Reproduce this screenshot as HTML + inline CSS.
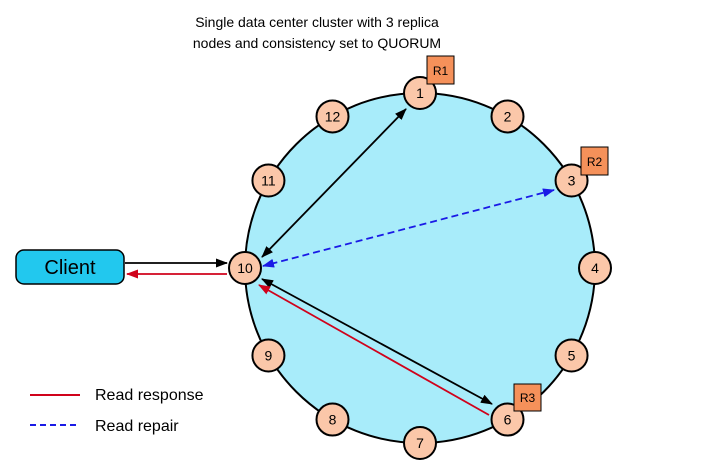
<!DOCTYPE html>
<html><head><meta charset="utf-8"><style>
body{margin:0;background:#fff;}
svg{display:block;font-family:"Liberation Sans",sans-serif;}
</style></head><body>
<svg id="d" width="725" height="471" viewBox="0 0 725 471">
<defs>
<marker id="ak" markerWidth="12" markerHeight="9" refX="11" refY="4.5" orient="auto-start-reverse" markerUnits="userSpaceOnUse"><path d="M0,0 L12,4.5 L0,9 Z" fill="#000"/></marker>
<marker id="ar" markerWidth="12" markerHeight="9" refX="11" refY="4.5" orient="auto-start-reverse" markerUnits="userSpaceOnUse"><path d="M0,0 L12,4.5 L0,9 Z" fill="#d0021b"/></marker>
<marker id="ab" markerWidth="12" markerHeight="9" refX="11" refY="4.5" orient="auto-start-reverse" markerUnits="userSpaceOnUse"><path d="M0,0 L12,4.5 L0,9 Z" fill="#1a1ae6"/></marker>
</defs>
<text x="317" y="27" font-size="14" text-anchor="middle">Single data center cluster with 3 replica</text>
<text x="317" y="48" font-size="14" text-anchor="middle">nodes and consistency set to QUORUM</text>
<circle cx="420" cy="268" r="175" fill="#a8ecfa" stroke="#000" stroke-width="2"/>
<line x1="406" y1="109" x2="262" y2="257" stroke="#000" stroke-width="1.8" marker-start="url(#ak)" marker-end="url(#ak)"/>
<line x1="554" y1="190" x2="263" y2="266" stroke="#1a1ae6" stroke-width="1.8" stroke-dasharray="7,4" marker-start="url(#ab)" marker-end="url(#ab)"/>
<line x1="262" y1="279" x2="492" y2="404" stroke="#000" stroke-width="1.8" marker-start="url(#ak)" marker-end="url(#ak)"/>
<line x1="489" y1="415" x2="259" y2="285" stroke="#d0021b" stroke-width="1.8" marker-end="url(#ar)"/>
<rect x="16" y="250" width="108" height="34" rx="8" fill="#22c8ee" stroke="#000" stroke-width="1.5"/>
<text x="70" y="274" font-size="20" text-anchor="middle">Client</text>
<line x1="125" y1="263" x2="227" y2="263" stroke="#000" stroke-width="1.8" marker-end="url(#ak)"/>
<line x1="227" y1="274" x2="127" y2="274" stroke="#d0021b" stroke-width="1.8" marker-end="url(#ar)"/>
<g id="nodes"></g>
<rect x="427" y="56" width="27" height="28" fill="#f5915a" stroke="#000"/>
<text x="440.5" y="75" font-size="12" text-anchor="middle">R1</text>
<rect x="581" y="147" width="27" height="28" fill="#f5915a" stroke="#000"/>
<text x="594.5" y="166" font-size="12" text-anchor="middle">R2</text>
<rect x="514" y="384" width="27" height="27" fill="#f5915a" stroke="#000"/>
<text x="527.5" y="402" font-size="12" text-anchor="middle">R3</text>
<line x1="30" y1="395" x2="80" y2="395" stroke="#d0021b" stroke-width="2"/>
<text x="95" y="400" font-size="16">Read response</text>
<line x1="30" y1="425" x2="80" y2="425" stroke="#1a1ae6" stroke-width="2" stroke-dasharray="6,4"/>
<text x="95" y="431" font-size="16">Read repair</text>
</svg>
<script>
const nodeIds=[1,2,3,4,5,6,7,8,9,10,11,12];
const cx=420,cy=268,R=175;
const g=document.getElementById('nodes');
const ns='http://www.w3.org/2000/svg';
nodeIds.forEach(function(id){
  const a=(id-1)*Math.PI/6;
  const x=cx+R*Math.sin(a), y=cy-R*Math.cos(a);
  const c=document.createElementNS(ns,'circle');
  c.setAttribute('cx',x);c.setAttribute('cy',y);c.setAttribute('r',16);
  c.setAttribute('fill','#fbc7a9');c.setAttribute('stroke','#000');c.setAttribute('stroke-width','2');
  
  
  g.appendChild(c);
  const t=document.createElementNS(ns,'text');
  t.setAttribute('x',x);t.setAttribute('y',y+5);t.setAttribute('font-size','14');t.setAttribute('text-anchor','middle');
  t.textContent=id;
  
  
  g.appendChild(t);
});
</script>
</body></html>
